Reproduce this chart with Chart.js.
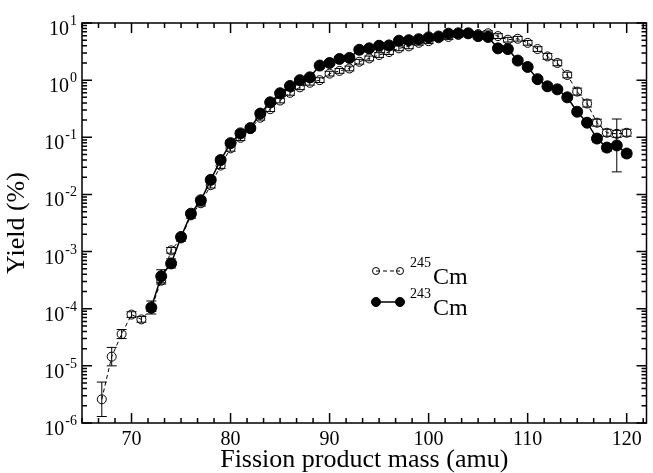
<!DOCTYPE html>
<html>
<head>
<meta charset="utf-8">
<script src="https://cdn.jsdelivr.net/npm/chart.js@4.4.1/dist/chart.umd.min.js"></script>
<style>
  html, body { margin: 0; padding: 0; background: #fff; }
  #wrap { width: 653px; height: 473px; }
</style>
</head>
<body>
<div id="wrap"><canvas id="chartCanvas" width="653" height="473"></canvas></div>
<script>
  // 245Cm (open circles, dashed)
  var mass245 = [67, 68, 69, 70, 71, 72, 73, 74, 75, 76, 77, 78, 79, 80, 81, 82, 83, 84, 85, 86,
    87, 88, 89, 90, 91, 92, 93, 94, 95, 96, 97, 98, 99, 100, 101, 102, 103, 104, 105, 106,
    107, 108, 109, 110, 111, 112, 113, 114, 115, 116, 117, 118, 119, 120];
  var yield245 = [2.6e-6, 1.45e-5, 3.6e-5, 7.9e-5, 6.5e-5, 1.0e-4, 3.1e-4, 1.05e-3, 1.7e-3, 4.3e-3,
    7.0e-3, 1.45e-2, 3.2e-2, 6.4e-2, 0.098, 0.14, 0.22, 0.31, 0.44, 0.6,
    0.75, 0.9, 1.0, 1.3, 1.45, 1.6, 2.1, 2.4, 2.75, 3.1, 3.6, 3.9, 4.5, 4.8, 5.4, 5.7,
    6.2, 6.6, 6.4, 6.6, 5.9, 5.1, 5.3, 4.5, 3.5, 2.6, 2.0, 1.23, 0.63, 0.39, 0.18, 0.12, 0.115, 0.12];
  // error bars as multiplicative factors (bar spans y/f .. y*f)
  var err245 = [2.0, 1.45, 1.2, 1.12, 1.12, 1.12, 1.15, 1.12, 1.12, 1.12,
    1.12, 1.12, 1.12, 1.12, 1.12, 1.1, 1.1, 1.1, 1.1, 1.1,
    1.1, 1.1, 1.1, 1.1, 1.1, 1.1, 1.1, 1.1, 1.1, 1.1, 1.1, 1.1, 1.1, 1.1, 1.1, 1.1,
    1.1, 1.1, 1.1, 1.1, 1.1, 1.1, 1.1, 1.1, 1.1, 1.12, 1.12, 1.12, 1.15, 1.15, 1.15, 1.15, 1.15, 1.15];

  // 243Cm (filled circles, solid)
  var mass243 = [72, 73, 74, 75, 76, 77, 78, 79, 80, 81, 82, 83, 84, 85, 86, 87, 88, 89, 90, 91,
    92, 93, 94, 95, 96, 97, 98, 99, 100, 101, 102, 103, 104, 105, 106, 107, 108, 109, 110, 111,
    112, 113, 114, 115, 116, 117, 118, 119, 120];
  var yield243 = [1.05e-4, 3.7e-4, 6.2e-4, 1.8e-3, 4.6e-3, 7.9e-3, 1.8e-2, 4.0e-2, 7.9e-2, 0.117,
    0.145, 0.26, 0.41, 0.59, 0.79, 1.0, 1.12, 1.8, 2.0, 2.35,
    2.45, 3.4, 3.6, 4.0, 4.05, 4.9, 5.0, 5.2, 5.6, 5.8, 6.5, 6.6, 6.6, 5.9, 5.7, 3.6, 3.5, 2.2, 1.7, 1.04,
    0.78, 0.69, 0.50, 0.28, 0.18, 0.095, 0.066, 0.072, 0.052];
  var err243 = [1.3, 1.3, 1.2, 1.12, 1.12, 1.12, 1.12, 1.12, 1.12, 1.12,
    1.1, 1.1, 1.1, 1.1, 1.1, 1.1, 1.1, 1.1, 1.1, 1.1,
    1.1, 1.1, 1.1, 1.1, 1.1, 1.1, 1.1, 1.1, 1.1, 1.1, 1.1, 1.1, 1.1, 1.1, 1.1, 1.1, 1.1, 1.1, 1.1, 1.1,
    1.1, 1.1, 1.1, 1.12, 1.12, 1.15, 1.15, 2.9, 1.15];

  var xTickValues = [70, 80, 90, 100, 110, 120];
  var yDecades = [-6, -5, -4, -3, -2, -1, 0, 1];
  var legendIsotopes = ['245', '243'];

  var SERIF = '"Liberation Serif", "DejaVu Serif", serif';

  function toPoints(xs, ys) {
    var pts = [];
    for (var i = 0; i < xs.length; i++) pts.push({ x: xs[i], y: ys[i] });
    return pts;
  }

  var errorBars = {
    id: 'errorBars',
    beforeDatasetsDraw: function(chart) {
      var ctx = chart.ctx;
      var area = chart.chartArea;
      var ys = chart.scales.y;
      var errs = [err243, err245];
      ctx.save();
      ctx.beginPath();
      ctx.rect(area.left, area.top, area.right - area.left, area.bottom - area.top);
      ctx.clip();
      ctx.strokeStyle = '#000';
      ctx.lineWidth = 1;
      for (var d = 0; d < chart.data.datasets.length; d++) {
        var meta = chart.getDatasetMeta(d);
        var vals = chart.data.datasets[d].data;
        var f = errs[d];
        meta.data.forEach(function(el, i) {
          var v = vals[i].y;
          var yTop = ys.getPixelForValue(v * f[i]);
          var yBot = ys.getPixelForValue(v / f[i]);
          ctx.beginPath();
          ctx.moveTo(el.x, yTop); ctx.lineTo(el.x, yBot);
          ctx.moveTo(el.x - 5, yTop); ctx.lineTo(el.x + 5, yTop);
          ctx.moveTo(el.x - 5, yBot); ctx.lineTo(el.x + 5, yBot);
          ctx.stroke();
        });
      }
      ctx.restore();
    }
  };

  var frameAndTicks = {
    id: 'frameAndTicks',
    afterDraw: function(chart) {
      var ctx = chart.ctx;
      var a = chart.chartArea;
      var xs = chart.scales.x;
      var ys = chart.scales.y;
      ctx.save();
      ctx.strokeStyle = '#000';
      ctx.lineWidth = 1.5;
      ctx.strokeRect(a.left, a.top, a.right - a.left, a.bottom - a.top);

      // x ticks: major every 10, five minor ticks in between
      ctx.beginPath();
      var step = 10 / 6;
      for (var k = -3; k <= 36; k++) {
        var v = xTickValues[0] + k * step;
        if (v < xs.min || v > xs.max) continue;
        var px = xs.getPixelForValue(v);
        var len = (k % 6 === 0) ? 10 : 5;
        ctx.moveTo(px, a.bottom); ctx.lineTo(px, a.bottom - len);
        ctx.moveTo(px, a.top); ctx.lineTo(px, a.top + len);
      }
      // y ticks: decades + log minors
      for (var i = 0; i < yDecades.length; i++) {
        var base = Math.pow(10, yDecades[i]);
        for (var m = 1; m <= 9; m++) {
          var val = base * m;
          if (val > ys.max * 1.0001) continue;
          var py = ys.getPixelForValue(val);
          var l = (m === 1) ? 10 : 5;
          ctx.moveTo(a.left, py); ctx.lineTo(a.left + l, py);
          ctx.moveTo(a.right, py); ctx.lineTo(a.right - l, py);
        }
      }
      ctx.stroke();

      // y tick labels 10^n, right-aligned against the axis
      ctx.fillStyle = '#000';
      ctx.textAlign = 'left';
      ctx.textBaseline = 'alphabetic';
      yDecades.forEach(function(e) {
        var py = ys.getPixelForValue(Math.pow(10, e));
        ctx.font = '14px ' + SERIF;
        var ew = ctx.measureText(String(e)).width;
        ctx.font = '20px ' + SERIF;
        var bw = ctx.measureText('10').width;
        var x0 = 77 - ew - 1 - bw;
        ctx.fillText('10', x0, py + 12);
        ctx.font = '14px ' + SERIF;
        ctx.fillText(String(e), x0 + bw + 1, py + 2);
      });

      // legend
      var lx = 376, rows = [271, 302];
      rows.forEach(function(ry, r) {
        ctx.lineWidth = r === 0 ? 1 : 1.5;
        ctx.setLineDash(r === 0 ? [4, 3] : []);
        ctx.beginPath();
        ctx.moveTo(lx, ry); ctx.lineTo(lx + 24, ry);
        ctx.stroke();
        ctx.setLineDash([]);
        ctx.lineWidth = 1;
        [lx, lx + 24].forEach(function(cx) {
          ctx.beginPath();
          ctx.arc(cx, ry, r === 0 ? 3.5 : 4.5, 0, Math.PI * 2);
          if (r === 1) ctx.fill();
          ctx.stroke();
        });
        ctx.font = '14px ' + SERIF;
        ctx.fillText(legendIsotopes[r], 410, ry - 4);
        var sw = ctx.measureText(legendIsotopes[r]).width;
        ctx.font = '24px ' + SERIF;
        ctx.fillText('Cm', 410 + sw + 2, ry + 13);
      });
      ctx.restore();
    }
  };

  var chartInstance = new Chart(document.getElementById('chartCanvas'), {
    type: 'line',
    data: {
      datasets: [{
        label: '243Cm',
        data: toPoints(mass243, yield243),
        borderColor: '#000',
        borderWidth: 1.5,
        pointRadius: 5.5,
        pointBackgroundColor: '#000',
        pointBorderColor: '#000',
        pointBorderWidth: 1,
        fill: false,
        tension: 0
      }, {
        label: '245Cm',
        data: toPoints(mass245, yield245),
        borderColor: '#000',
        borderWidth: 1,
        borderDash: [4, 3],
        pointRadius: 4.5,
        pointBackgroundColor: 'rgba(0,0,0,0)',
        pointBorderColor: '#000',
        pointBorderWidth: 1,
        fill: false,
        tension: 0
      }]
    },
    options: {
      responsive: false,
      animation: false,
      events: [],
      layout: { padding: { top: 23, right: 1, left: 0, bottom: 0 } },
      plugins: { legend: { display: false }, tooltip: { enabled: false } },
      scales: {
        x: {
          type: 'linear',
          min: 65,
          max: 122,
          afterFit: function(s) { s.height = 50; },
          afterBuildTicks: function(s) { s.ticks = xTickValues.map(function(v) { return { value: v }; }); },
          grid: { display: false, drawTicks: false },
          border: { display: false },
          ticks: { color: '#000', font: { family: SERIF, size: 20 }, padding: 5, maxRotation: 0 },
          title: { display: true, text: 'Fission product mass (amu)', color: '#000',
            font: { family: SERIF, size: 26, lineHeight: 1 }, padding: { top: 0, bottom: 0 } }
        },
        y: {
          type: 'logarithmic',
          min: 1e-6,
          max: 10,
          afterFit: function(s) { s.width = 82; },
          grid: { display: false, drawTicks: false },
          border: { display: false },
          ticks: { display: false },
          title: { display: true, text: 'Yield (%)', color: '#000',
            font: { family: SERIF, size: 26, lineHeight: 1 }, padding: { top: 4, bottom: 0 } }
        }
      }
    },
    plugins: [errorBars, frameAndTicks]
  });
</script>
</body>
</html>
